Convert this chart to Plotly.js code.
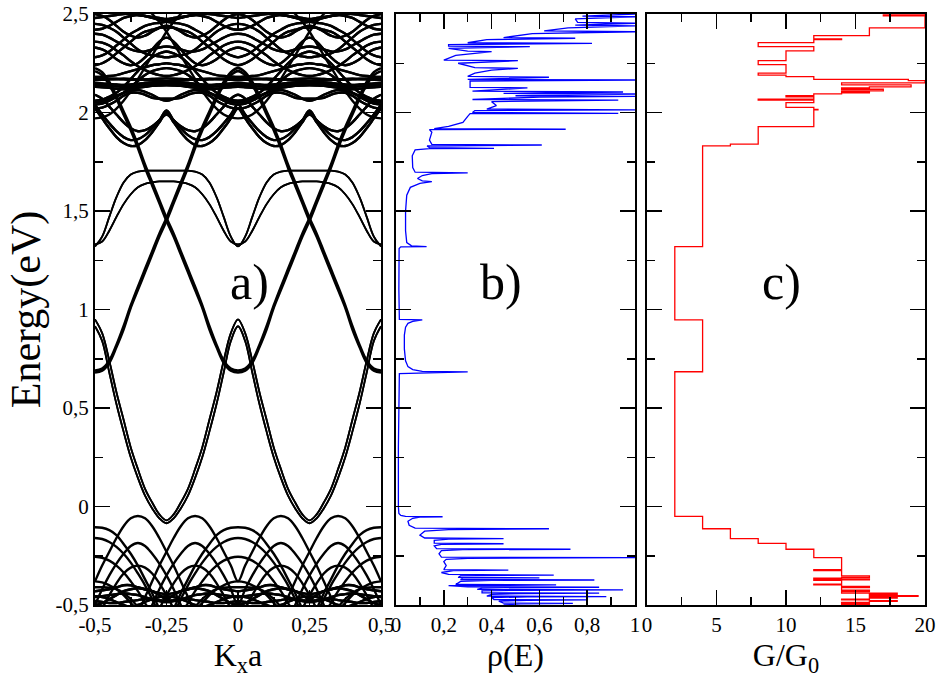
<!DOCTYPE html>
<html><head><meta charset="utf-8">
<script src="https://cdn.plot.ly/plotly-3.0.1.min.js"></script>
<style>html,body{margin:0;padding:0;background:#fff}#chart{width:938px;height:679px}</style>
</head><body><div id="chart"></div>
<script>
// ---------- panel a: band structure, energies (eV) read at distance d from the band centre (k=0 and k=±0.5) ----------
const dGrid = [0,0.025,0.05,0.075,0.1,0.125,0.15,0.175,0.2,0.225,0.25,0.275,0.3,0.325,0.35,0.375,0.4,0.425,0.45,0.475,0.5];

// double-line edge bands
const band1a = [0.95,0.88,0.74,0.58,0.44,0.30,0.19,0.09,0.02,-0.04,-0.07,-0.04,0.02,0.09,0.19,0.30,0.44,0.58,0.74,0.88,0.95];
const band1b = [0.915,0.84,0.68,0.52,0.38,0.25,0.145,0.055,-0.01,-0.06,-0.085,-0.06,-0.01,0.055,0.145,0.25,0.38,0.52,0.68,0.84,0.915];
const band3a = [1.32,1.37,1.47,1.57,1.645,1.685,1.70,1.705,1.705,1.705,1.705,1.705,1.705,1.705,1.70,1.685,1.645,1.57,1.47,1.37,1.32];
const band3b = [1.33,1.345,1.40,1.47,1.535,1.585,1.62,1.638,1.645,1.65,1.65,1.65,1.645,1.638,1.62,1.585,1.535,1.47,1.40,1.345,1.33];
// thick band
const band2a = [0.68,0.69,0.73,0.81,0.90,1.01,1.10,1.19,1.28,1.37,1.45,1.54,1.63,1.72,1.82,1.91,1.99,2.07,2.14,2.19,2.21];
const band2b = [0.69,0.70,0.74,0.82,0.915,1.02,1.115,1.205,1.295,1.385,1.465,1.555,1.645,1.735,1.835,1.925,2.005,2.085,2.155,2.205,2.225];

const cond1 = [2.02,1.97,1.92,1.875,1.845,1.83,1.835,1.86,1.90,1.95,2.0,1.95,1.90,1.86,1.835,1.83,1.845,1.875,1.92,1.97,2.02];
const cond2 = [2.04,1.99,1.945,1.905,1.875,1.86,1.865,1.885,1.92,1.96,2.01,1.96,1.92,1.885,1.865,1.86,1.875,1.905,1.945,1.99,2.04];
const cond3 = [2.36,2.355,2.34,2.315,2.29,2.26,2.235,2.215,2.2,2.19,2.185,2.19,2.2,2.215,2.235,2.26,2.29,2.315,2.34,2.355,2.36];
const cond4 = [2.45,2.445,2.43,2.41,2.38,2.35,2.32,2.30,2.29,2.285,2.28,2.285,2.29,2.30,2.32,2.35,2.38,2.41,2.43,2.445,2.45];
const cond5 = [2.42,2.425,2.44,2.46,2.48,2.49,2.495,2.49,2.48,2.47,2.465,2.47,2.48,2.49,2.495,2.49,2.48,2.46,2.44,2.425,2.42];
const cond6 = [2.06,2.065,2.08,2.10,2.13,2.17,2.21,2.25,2.28,2.30,2.31,2.30,2.28,2.25,2.21,2.17,2.13,2.10,2.08,2.065,2.06];
const cond7 = [2.05,2.055,2.07,2.085,2.10,2.11,2.115,2.105,2.09,2.07,2.06,2.07,2.09,2.105,2.115,2.11,2.10,2.085,2.07,2.055,2.05];
const cond8 = [2.13,2.128,2.125,2.12,2.118,2.12,2.125,2.13,2.135,2.137,2.138,2.137,2.135,2.13,2.125,2.12,2.118,2.12,2.125,2.128,2.13];
const cond9 = [2.15,2.148,2.145,2.142,2.14,2.142,2.146,2.15,2.153,2.155,2.155,2.155,2.153,2.15,2.146,2.142,2.14,2.142,2.145,2.148,2.15];
const cond10 = [2.165,2.166,2.168,2.17,2.172,2.17,2.167,2.165,2.163,2.162,2.16,2.162,2.163,2.165,2.167,2.17,2.172,2.17,2.168,2.166,2.165];
const cond11 = [2.18,2.182,2.185,2.19,2.20,2.21,2.22,2.23,2.24,2.245,2.25,2.245,2.24,2.23,2.22,2.21,2.20,2.19,2.185,2.182,2.18];
const cond12 = [2.24,2.25,2.27,2.30,2.33,2.36,2.39,2.41,2.42,2.43,2.43,2.43,2.42,2.41,2.39,2.36,2.33,2.30,2.27,2.25,2.24];
const cond13 = [2.5,2.49,2.47,2.44,2.41,2.39,2.38,2.39,2.41,2.43,2.44,2.43,2.41,2.39,2.38,2.39,2.41,2.44,2.47,2.49,2.5];
const cond14 = [2.33,2.32,2.30,2.27,2.25,2.24,2.25,2.28,2.32,2.36,2.38,2.36,2.32,2.28,2.25,2.24,2.25,2.27,2.30,2.32,2.33];
const cond15 = [2.48,2.485,2.49,2.495,2.5,2.5,2.495,2.49,2.485,2.48,2.475,2.48,2.485,2.49,2.495,2.5,2.5,2.495,2.49,2.485,2.48];
const cond16 = [1.97,1.975,1.99,2.02,2.06,2.11,2.17,2.23,2.29,2.35,2.41,2.46,2.50,2.54,2.58,2.6,2.6,2.6,2.6,2.6,2.6];
const cond17 = [2.04,2.045,2.06,2.08,2.10,2.13,2.16,2.19,2.21,2.22,2.225,2.22,2.21,2.19,2.16,2.13,2.10,2.08,2.06,2.045,2.04];
const cond18 = [2.02,2.025,2.04,2.06,2.085,2.10,2.10,2.09,2.075,2.07,2.07,2.07,2.075,2.09,2.10,2.10,2.085,2.06,2.04,2.025,2.02];
const cond19 = [2.14,2.138,2.135,2.132,2.13,2.132,2.136,2.14,2.144,2.146,2.147,2.146,2.144,2.14,2.136,2.132,2.13,2.132,2.135,2.138,2.14];
const cond20 = [2.175,2.174,2.172,2.17,2.168,2.166,2.166,2.168,2.17,2.172,2.173,2.172,2.17,2.168,2.166,2.166,2.168,2.17,2.172,2.174,2.175];
const cond21 = [2.28,2.29,2.31,2.34,2.37,2.40,2.42,2.44,2.45,2.455,2.46,2.455,2.45,2.44,2.42,2.40,2.37,2.34,2.31,2.29,2.28];
const cond22 = [2.40,2.395,2.38,2.36,2.34,2.32,2.31,2.31,2.32,2.33,2.335,2.33,2.32,2.31,2.31,2.32,2.34,2.36,2.38,2.395,2.40];
const cond23 = [2.09,2.07,2.03,1.99,1.95,1.92,1.905,1.91,1.93,1.96,1.99,1.96,1.93,1.91,1.905,1.92,1.95,1.99,2.03,2.07,2.09];

const val1 = [-0.105,-0.108,-0.12,-0.145,-0.19,-0.24,-0.30,-0.37,-0.44,-0.52,-0.6,-0.6,-0.6,-0.6,-0.6,-0.6,-0.6,-0.6,-0.6,-0.6,-0.6];
const val2 = [-0.16,-0.165,-0.18,-0.205,-0.24,-0.285,-0.34,-0.40,-0.47,-0.55,-0.62,-0.62,-0.62,-0.62,-0.62,-0.62,-0.62,-0.62,-0.62,-0.62,-0.62];
const val3 = [-0.255,-0.26,-0.275,-0.30,-0.335,-0.38,-0.43,-0.49,-0.55,-0.62,-0.65,-0.65,-0.65,-0.65,-0.65,-0.65,-0.65,-0.65,-0.65,-0.65,-0.65];
const val4 = [-0.38,-0.30,-0.23,-0.16,-0.10,-0.06,-0.048,-0.06,-0.10,-0.16,-0.23,-0.30,-0.38,-0.46,-0.54,-0.6,-0.6,-0.6,-0.6,-0.6,-0.6];
const val5 = [-0.5,-0.42,-0.35,-0.29,-0.24,-0.20,-0.185,-0.20,-0.24,-0.29,-0.35,-0.42,-0.5,-0.58,-0.65,-0.65,-0.65,-0.65,-0.65,-0.65,-0.65];
const val6 = [-0.6,-0.52,-0.45,-0.39,-0.34,-0.31,-0.30,-0.31,-0.34,-0.39,-0.45,-0.52,-0.6,-0.65,-0.65,-0.65,-0.65,-0.65,-0.65,-0.65,-0.65];
const val7 = [-0.43,-0.425,-0.42,-0.41,-0.40,-0.40,-0.41,-0.42,-0.43,-0.44,-0.445,-0.44,-0.43,-0.42,-0.41,-0.40,-0.40,-0.41,-0.42,-0.425,-0.43];
const val8 = [-0.46,-0.455,-0.45,-0.445,-0.44,-0.445,-0.45,-0.46,-0.47,-0.475,-0.48,-0.475,-0.47,-0.46,-0.45,-0.445,-0.44,-0.445,-0.45,-0.455,-0.46];
const val9 = [-0.48,-0.485,-0.49,-0.49,-0.485,-0.48,-0.475,-0.47,-0.475,-0.48,-0.485,-0.48,-0.475,-0.47,-0.475,-0.48,-0.485,-0.49,-0.49,-0.485,-0.48];
const val10 = [-0.38,-0.385,-0.40,-0.42,-0.45,-0.49,-0.53,-0.6,-0.6,-0.6,-0.6,-0.6,-0.6,-0.6,-0.6,-0.6,-0.6,-0.6,-0.6,-0.6,-0.6];
const val11 = [-0.41,-0.41,-0.412,-0.42,-0.44,-0.47,-0.51,-0.56,-0.6,-0.6,-0.6,-0.6,-0.6,-0.6,-0.6,-0.6,-0.6,-0.6,-0.6,-0.6,-0.6];
const val12 = [-0.50,-0.49,-0.47,-0.45,-0.43,-0.42,-0.415,-0.42,-0.43,-0.45,-0.47,-0.45,-0.43,-0.42,-0.415,-0.42,-0.43,-0.45,-0.47,-0.49,-0.50];
const val13 = [-0.455,-0.46,-0.47,-0.485,-0.50,-0.51,-0.5,-0.485,-0.47,-0.46,-0.455,-0.46,-0.47,-0.485,-0.5,-0.51,-0.50,-0.485,-0.47,-0.46,-0.455];

// ---------- panel b: density of states ----------
const dosE = [-0.500,-0.494,-0.492,-0.490,-0.480,-0.476,-0.474,-0.472,-0.462,-0.459,-0.457,-0.455,-0.446,-0.442,-0.440,-0.438,-0.428,-0.425,-0.423,-0.421,-0.414,-0.412,-0.410,-0.408,-0.402,-0.400,-0.398,-0.396,-0.380,-0.375,-0.373,-0.371,-0.364,-0.362,-0.360,-0.352,-0.350,-0.348,-0.345,-0.335,-0.326,-0.323,-0.320,-0.300,-0.280,-0.268,-0.263,-0.260,-0.257,-0.240,-0.224,-0.219,-0.217,-0.214,-0.200,-0.192,-0.189,-0.186,-0.172,-0.166,-0.163,-0.160,-0.145,-0.125,-0.117,-0.113,-0.110,-0.095,-0.075,-0.060,-0.054,-0.052,-0.050,-0.045,-0.035,
  0.000,0.300,0.600,0.675,0.683,0.686,0.695,0.710,0.740,0.800,0.870,0.910,0.930,0.940,0.947,0.950,1.100,1.310,1.318,1.319,1.323,1.340,1.400,1.500,1.580,1.620,1.640,1.649,1.653,1.665,1.680,1.690,1.694,1.697,1.720,1.780,1.810,1.817,1.818,1.822,1.830,1.835,1.838,1.860,1.900,1.913,1.915,1.918,1.930,1.950,1.980,1.994,1.996,2.000,2.010,2.013,2.017,2.035,2.055,2.063,2.066,2.078,2.082,2.085,2.094,2.097,2.104,2.108,2.125,2.128,2.145,2.160,2.165,2.168,2.179,2.183,2.200,2.215,2.224,2.228,2.250,2.263,2.266,2.290,2.309,2.312,2.325,2.334,2.337,2.345,2.351,2.354,2.370,2.377,2.380,2.400,2.410,2.414,2.430,2.440,2.444,2.453,2.457,2.475,2.486,2.489,2.500];
const dosRho = [0.45,0.52,0.74,0.45,0.43,0.55,0.80,0.41,0.40,0.55,0.88,0.38,0.40,0.52,0.85,0.36,0.36,0.50,0.95,0.34,0.36,0.45,0.85,0.30,0.22,0.35,0.67,0.25,0.27,0.40,0.83,0.27,0.28,0.60,0.26,0.27,0.40,0.66,0.22,0.19,0.24,0.47,0.20,0.21,0.20,0.21,0.30,1.00,0.19,0.18,0.19,0.28,0.73,0.17,0.16,0.19,0.45,0.16,0.16,0.22,0.45,0.12,0.10,0.12,0.22,0.64,0.08,0.055,0.05,0.07,0.10,0.195,0.04,0.02,0.012,
  0.010,0.010,0.011,0.014,0.300,0.11,0.07,0.05,0.04,0.035,0.035,0.04,0.05,0.07,0.11,0.014,0.012,0.013,0.020,0.128,0.065,0.045,0.040,0.040,0.045,0.060,0.10,0.15,0.11,0.09,0.11,0.15,0.30,0.08,0.07,0.068,0.08,0.14,0.41,0.14,0.13,0.61,0.15,0.14,0.15,0.14,0.71,0.16,0.22,0.28,0.30,0.31,0.93,0.32,0.33,1.00,0.38,0.42,0.40,0.93,0.32,0.60,1.00,0.50,1.00,0.45,0.95,0.32,0.55,0.31,0.31,0.31,1.00,0.30,0.64,0.30,0.33,0.40,0.51,0.33,0.26,0.51,0.20,0.25,0.40,0.30,0.22,0.56,0.22,0.22,0.82,0.30,0.38,0.75,0.45,0.57,1.00,0.62,0.72,1.00,0.75,1.00,0.76,0.75,1.00,0.78,1.00];

// ---------- panel c: conductance (steps: G from this energy upward) ----------
const gE = [-0.500,-0.497,-0.493,-0.487,-0.482,-0.478,-0.474,-0.470,-0.465,-0.460,-0.456,-0.452,-0.446,-0.440,-0.432,-0.425,-0.412,-0.405,-0.398,-0.394,-0.375,-0.372,-0.368,-0.364,-0.360,-0.352,-0.325,-0.320,-0.260,-0.217,-0.187,-0.163,-0.113,-0.050,0.684,0.947,1.319,1.831,1.839,1.928,2.013,2.016,2.026,2.050,2.063,2.068,2.080,2.085,2.095,2.100,2.105,2.110,2.118,2.125,2.130,2.140,2.150,2.162,2.168,2.182,2.190,2.200,2.243,2.263,2.313,2.334,2.355,2.370,2.374,2.390,2.430,2.490,2.495,2.500];
const gVal = [14,16,14,16,18,16,14,16,18,16,19.5,16,18,14,16,14,16,14,12,14,12,16,12,14,16,14,12,14,12,10,8,6,4,2,4,2,4,6,8,12,12.3,12,10,12,8,12,10,12,14,16,14,17,14,16,19,14,20,18.8,12,10,8,10,8,10,12,8,12,14,12,16,20,17,20,20];

// ---------- ticks ----------
const kTickVals = [-0.5,-0.25,0,0.25,0.5];
const kTickText = ['-0,5','-0,25','0','0,25','0,5'];
const eTickVals = [-0.5,0,0.5,1,1.5,2,2.5];
const eTickText = ['-0,5','0','0,5','1','1,5','2','2,5'];
const rhoTickVals = [0,0.2,0.4,0.6,0.8,1];
const rhoTickText = ['0','0,2','0,4','0,6','0,8','1'];
const gTickVals = [0,5,10,15,20];
const gTickText = ['0','5','10','15','20'];

// build band polylines (mirror symmetry about k=0, copies centred at k=0 and k=±0.5)
function buildBands(list){
  const kx=[], en=[];
  list.forEach(b=>{
    for(let i=dGrid.length-1;i>=0;i--){kx.push(-dGrid[i]);en.push(b[i]);}
    for(let i=1;i<dGrid.length;i++){kx.push(dGrid[i]);en.push(b[i]);}
    kx.push(null);en.push(null);
    for(let i=0;i<dGrid.length;i++){kx.push(-0.5+dGrid[i]);en.push(b[i]);}
    for(let i=dGrid.length-2;i>=0;i--){kx.push(0.5-dGrid[i]);en.push(b[i]);}
    kx.push(null);en.push(null);
  });
  return {kx,en};
}
const regular = buildBands([cond1,cond2,cond3,cond4,cond5,cond6,cond7,cond8,cond9,cond10,cond11,cond12,cond13,cond14,cond15,cond16,cond17,cond18,cond19,cond20,cond21,cond22,cond23,val1,val2,val3,val4,val5,val6,val7,val8,val9,val10,val11,val12,val13]);
const doubles = buildBands([band1a,band1b,band3a,band3b]);
const thick = buildBands([band2a,band2b]);

const serif = 'Liberation Serif';
const traces = [
  {x:regular.kx,y:regular.en,xaxis:'x',yaxis:'y',mode:'lines',line:{color:'#000',width:2.4,shape:'spline',smoothing:1},hoverinfo:'skip'},
  {x:doubles.kx,y:doubles.en,xaxis:'x',yaxis:'y',mode:'lines',line:{color:'#000',width:1.8,shape:'spline',smoothing:1},hoverinfo:'skip'},
  {x:thick.kx,y:thick.en,xaxis:'x',yaxis:'y',mode:'lines',line:{color:'#000',width:2.6,shape:'spline',smoothing:1},hoverinfo:'skip'},
  {x:dosRho,y:dosE,xaxis:'x2',yaxis:'y2',mode:'lines',line:{color:'#0000ff',width:1.3}},
  {x:gVal,y:gE,xaxis:'x3',yaxis:'y3',mode:'lines',line:{color:'#ff0000',width:1.3,shape:'vh'}}
];

const minorTicks = (dt)=>({dtick:dt,tick0:0,ticklen:8,tickwidth:1.5,ticks:'inside',tickcolor:'#000'});
const axBase = {showline:true,linewidth:2,linecolor:'#000',mirror:'ticks',ticks:'inside',ticklen:15,tickwidth:1.5,tickcolor:'#000',showgrid:false,zeroline:false,tickfont:{family:serif,size:21,color:'#000'}};
function ax(extra){return Object.assign({},axBase,extra);}
const yRange=[-0.5,2.5];
const layout = {
  width:938,height:679,margin:{l:95,r:13,t:14,b:74},paper_bgcolor:'#fff',plot_bgcolor:'#fff',showlegend:false,
  font:{family:serif,color:'#000'},
  xaxis:ax({domain:[0,0.34458],range:[-0.5,0.5],tickmode:'array',tickvals:kTickVals,ticktext:kTickText,minor:minorTicks(0.125),title:{text:'K<sub>x</sub>a',font:{family:serif,size:32},standoff:6}}),
  yaxis:ax({domain:[0,1],range:yRange,tickmode:'array',tickvals:eTickVals,ticktext:eTickText,minor:minorTicks(0.25),title:{text:'Energy(eV)',font:{family:serif,size:42},standoff:2}}),
  xaxis2:ax({domain:[0.36265,0.65060],anchor:'y2',range:[0,1],tickmode:'array',tickvals:rhoTickVals,ticktext:rhoTickText,minor:minorTicks(0.1),title:{text:'ρ(E)',font:{family:serif,size:32},standoff:6}}),
  yaxis2:ax({domain:[0,1],anchor:'x2',range:yRange,dtick:0.5,tick0:0,showticklabels:false,minor:minorTicks(0.25)}),
  xaxis3:ax({domain:[0.66506,1],anchor:'y3',range:[0,20],tickmode:'array',tickvals:gTickVals,ticktext:gTickText,minor:minorTicks(2.5),title:{text:'G/G<sub>0</sub>',font:{family:serif,size:32},standoff:6}}),
  yaxis3:ax({domain:[0,1],anchor:'x3',range:yRange,dtick:0.5,tick0:0,showticklabels:false,minor:minorTicks(0.25)}),
  annotations:[
    {text:'a)',xref:'x',yref:'y',x:0.04,y:1.14,showarrow:false,font:{family:serif,size:50,color:'#000'}},
    {text:'b)',xref:'x2',yref:'y2',x:0.44,y:1.14,showarrow:false,font:{family:serif,size:50,color:'#000'}},
    {text:'c)',xref:'x3',yref:'y3',x:9.7,y:1.14,showarrow:false,font:{family:serif,size:50,color:'#000'}}
  ]
};
Plotly.newPlot('chart',traces,layout,{displayModeBar:false,staticPlot:true});
</script>
</body></html>
